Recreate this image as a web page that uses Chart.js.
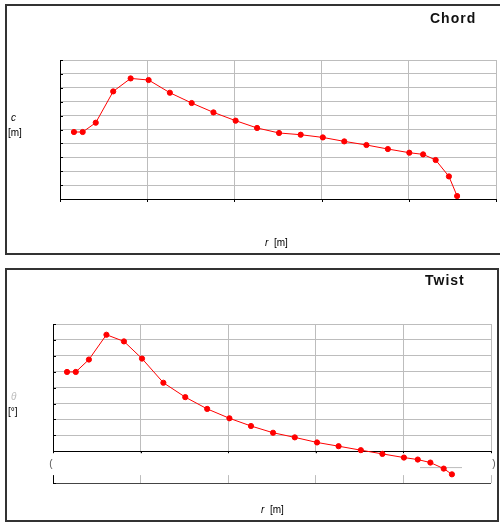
<!DOCTYPE html>
<html>
<head>
<meta charset="utf-8">
<script src="https://cdn.jsdelivr.net/npm/chart.js@4.4.1/dist/chart.umd.min.js"></script>
<style>
    body { margin: 0; width: 500px; height: 523px; position: relative; background: #fff; overflow: hidden;
           font-family: "Liberation Sans", Arial, sans-serif; }
    .box { position: absolute; border: 2px solid #333; box-sizing: border-box; }
    canvas { position: absolute; left: 0; }
    .lbl { position: absolute; font-size: 10px; line-height: 12px; color: #000; white-space: pre; }
    .title { position: absolute; font-size: 14px; line-height: 16px; font-weight: bold; letter-spacing: 1px; color: #111; }
</style>
</head>
<body>
<div class="box" style="left:5px;top:4px;width:500px;height:251px"></div>
<div class="box" style="left:5px;top:268px;width:494px;height:254px"></div>

<canvas id="chordChart" width="500" height="258" style="top:0"></canvas>
<canvas id="twistChart" width="500" height="263" style="top:260px"></canvas>

<div class="title" style="left:430px;top:10px">Chord</div>
<div class="lbl" style="left:11px;top:112px"><i>c</i></div>
<div class="lbl" style="left:8px;top:127px">[m]</div>
<div class="lbl" style="left:265px;top:237px"><i>r</i>  [m]</div>

<div class="title" style="left:425px;top:272px">Twist</div>
<div class="lbl" style="left:11px;top:391px;color:#bbb"><i>θ</i></div>
<div class="lbl" style="left:8px;top:406px">[°]</div>
<div class="lbl" style="left:261px;top:504px"><i>r</i>  [m]</div>

<script>
// radial stations [m]
const radius = [0.8, 1.3, 2.05, 3.05, 4.05, 5.08, 6.3, 7.55, 8.8, 10.07, 11.3,
                12.56, 13.8, 15.07, 16.3, 17.57, 18.8, 20.03, 20.82, 21.54, 22.3, 22.77];
// chord [m]
const chord = [0.964, 0.964, 1.098, 1.548, 1.735, 1.712, 1.529, 1.381, 1.246, 1.127, 1.022,
               0.950, 0.925, 0.886, 0.829, 0.777, 0.719, 0.666, 0.642, 0.561, 0.325, 0.043];
// twist [deg]
const twist = [9.97, 9.97, 11.53, 14.65, 13.81, 11.65, 8.61, 6.80, 5.32, 4.14, 3.17,
               2.32, 1.74, 1.10, 0.63, 0.13, -0.34, -0.80, -1.05, -1.43, -2.19, -2.91];

const rTicks = { min: 0, max: 25, step: 5 };
const chordTicks = { min: 0, max: 2, step: 0.2 };
const twistTicks = { min: -4, max: 16, step: 2 };

const GRID = '#bdbdbd';

function toPoints(xs, ys) {
    return xs.map((x, i) => ({ x: x, y: ys[i] }));
}

// small tick marks inside the y axis and under the x axis line
const innerTicks = {
    id: 'innerTicks',
    beforeDatasetsDraw(chart) {
        const { ctx, chartArea, scales } = chart;
        const axisY = scales.y.min < 0 ? scales.y.getPixelForValue(0) : chartArea.bottom;
        ctx.save();
        ctx.strokeStyle = '#000';
        ctx.lineWidth = 1;
        ctx.beginPath();
        scales.y.ticks.forEach((t) => {
            const py = Math.round(scales.y.getPixelForValue(t.value)) + 0.5;
            ctx.moveTo(chartArea.left, py);
            ctx.lineTo(chartArea.left + 3, py);
        });
        scales.x.ticks.forEach((t) => {
            const px = Math.round(scales.x.getPixelForValue(t.value)) + 0.5;
            ctx.moveTo(px, axisY);
            ctx.lineTo(px, axisY + 3);
        });
        ctx.stroke();
        ctx.restore();
    }
};

// blank label strip under the zero line (twist chart)
const labelStrip = {
    id: 'labelStrip',
    beforeDatasetsDraw(chart) {
        const { ctx, chartArea, scales } = chart;
        const top = scales.y.getPixelForValue(0) + 2;
        const bottom = scales.y.getPixelForValue(-2) + 8;
        ctx.save();
        ctx.fillStyle = '#fff';
        ctx.fillRect(chartArea.left - 5, top, chartArea.right - chartArea.left + 8, bottom - top);
        ctx.strokeStyle = '#bbb';
        ctx.beginPath();
        ctx.moveTo(420, bottom - 7.5);
        ctx.lineTo(462, bottom - 7.5);
        ctx.stroke();
        ctx.fillStyle = '#555';
        ctx.font = '10px "Liberation Sans", Arial, sans-serif';
        ctx.textBaseline = 'middle';
        ctx.textAlign = 'center';
        ctx.fillText('(', chartArea.left - 2, (top + bottom) / 2);
        ctx.fillText(')', chartArea.right + 3, (top + bottom) / 2);
        ctx.restore();
    }
};

function lineDataset(xs, ys) {
    return {
        data: toPoints(xs, ys),
        borderColor: '#ff0000',
        backgroundColor: '#ff0000',
        borderWidth: 1,
        pointRadius: 2.6,
        pointBorderWidth: 1,
        pointHoverRadius: 2.6,
        tension: 0
    };
}

function baseOptions(yt, padding) {
    return {
        responsive: false,
        animation: false,
        layout: { padding: padding },
        plugins: { legend: { display: false }, tooltip: { enabled: false } },
        scales: {
            x: {
                type: 'linear',
                min: rTicks.min, max: rTicks.max,
                ticks: { display: false, stepSize: rTicks.step },
                grid: { color: GRID, drawTicks: false },
                border: { color: '#000', width: 1 }
            },
            y: {
                min: yt.min, max: yt.max,
                ticks: { display: false, stepSize: yt.step },
                grid: { color: GRID, drawTicks: false },
                border: { color: '#000', width: 1 }
            }
        }
    };
}

// Chord
new Chart(document.getElementById('chordChart'), {
    type: 'line',
    data: { datasets: [lineDataset(radius, chord)] },
    options: baseOptions(chordTicks, { left: 60, right: 4, top: 60, bottom: 59 }),
    plugins: [innerTicks]
});

// Twist
const twistOptions = baseOptions(twistTicks, { left: 53, right: 9, top: 64, bottom: 40 });
twistOptions.scales.x.position = { y: 0 };
twistOptions.scales.y.grid.color = (c) => (c.tick && c.tick.value === twistTicks.min ? '#444' : GRID);
new Chart(document.getElementById('twistChart'), {
    type: 'line',
    data: { datasets: [lineDataset(radius, twist)] },
    options: twistOptions,
    plugins: [innerTicks, labelStrip]
});
</script>
</body>
</html>
